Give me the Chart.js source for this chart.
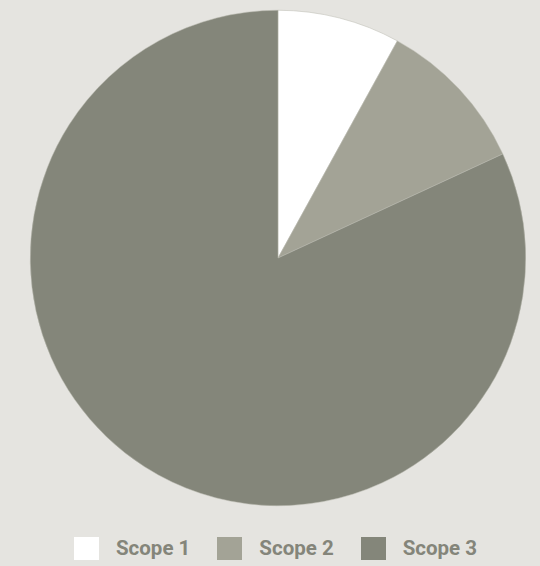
<!DOCTYPE html>
<html>
<head>
<meta charset="utf-8">
<script src="https://cdn.jsdelivr.net/npm/chart.js@4/dist/chart.umd.min.js"></script>
<style>
  html, body { margin: 0; padding: 0; background: #e5e4e0; }
  #wrap { width: 540px; height: 566px; position: relative; }
  #chartBox { position: absolute; left: 0; top: 0; width: 540px; height: 520px; }
  #legend {
    position: absolute; left: 74px; top: 536px;
    display: flex; align-items: center;
    font-family: Roboto, sans-serif; font-weight: bold; font-size: 20.5px;
    color: #84857a;
  }
  #legend .item { display: flex; align-items: center; margin-right: 27px; }
  #legend .box { width: 25px; height: 23px; margin-right: 17px; }
</style>
</head>
<body>
<div id="wrap">
  <div id="chartBox"><canvas id="ChartScopes"></canvas></div>
  <div id="legend"></div>
</div>
<script>
const scopes = ['Scope 1', 'Scope 2', 'Scope 3'];
const shares = [8.0, 10.1, 81.9];
const colours = ['#ffffff', '#a3a396', '#84867a'];

const data = {
    labels: scopes,
    datasets: [{
        data: shares,
        backgroundColor: colours,
        borderColor: '#b9b9ae',
        borderWidth: 0.5
    }]
};

const config = {
    type: 'pie',
    data: data,
    options: {
        responsive: true,
        maintainAspectRatio: false,
        animation: false,
        layout: {
            padding: { top: 10, bottom: 14, left: 16, right: 0 }
        },
        plugins: {
            legend: { display: false },
            tooltip: { enabled: false }
        }
    }
};

const myChart = new Chart(document.getElementById('ChartScopes'), config);

// legend row under the pie
const legend = document.getElementById('legend');
scopes.forEach((name, i) => {
    const item = document.createElement('div');
    item.className = 'item';
    const box = document.createElement('span');
    box.className = 'box';
    box.style.background = colours[i];
    const label = document.createElement('span');
    label.textContent = name;
    item.appendChild(box);
    item.appendChild(label);
    legend.appendChild(item);
});
</script>
</body>
</html>
